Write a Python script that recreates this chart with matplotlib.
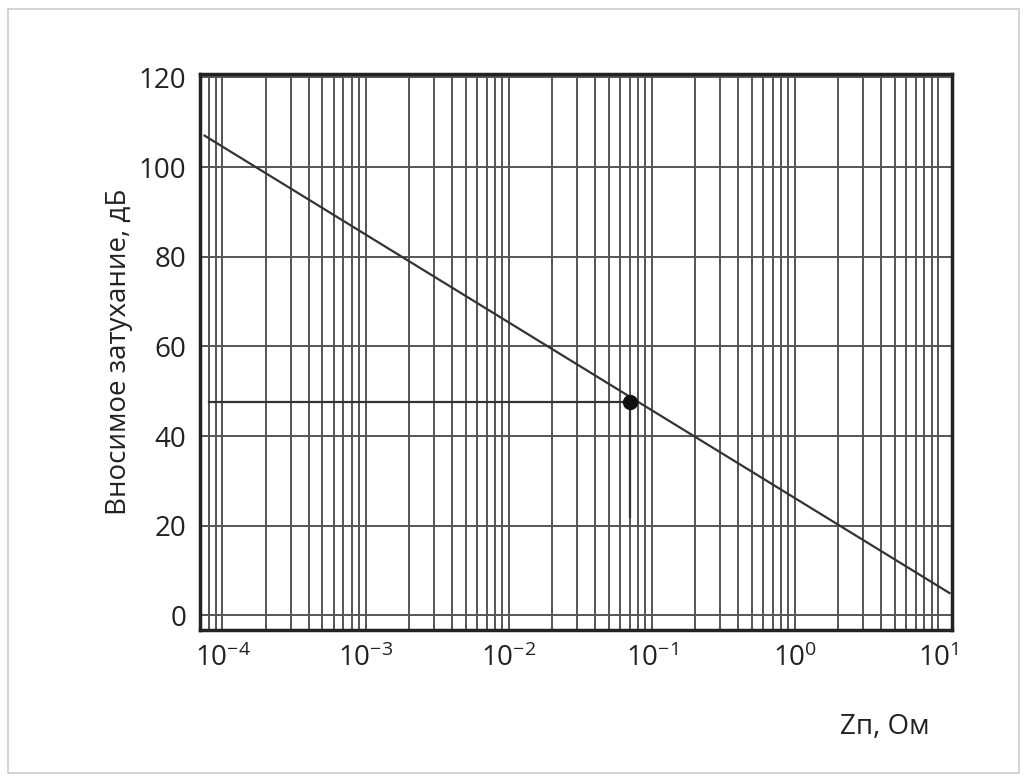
import matplotlib
matplotlib.use("Agg")
import matplotlib.pyplot as plt
from matplotlib.patches import Rectangle
import numpy as np

line_x = [7.5e-5, 12.0]
line_y = [107.0, 5.0]
pt_x, pt_y = 0.07, 47.5
hline_x0 = 8e-5
vline_y0 = 22.0
yticks = [0, 20, 40, 60, 80, 100, 120]

plt.rcParams['font.family'] = ['Open Sans', 'DejaVu Sans']
fig = plt.figure(figsize=(10.27, 7.81), dpi=100)
fig.patches.append(Rectangle((0.008, 0.01), 0.984, 0.978, transform=fig.transFigure,
                             fill=False, edgecolor='#cccccc', lw=1.2))
ax = fig.add_axes([0.195, 0.193, 0.732, 0.712])
ax.set_xscale('log')
ax.set_xlim(7e-5, 12.5)
ax.set_ylim(-3.3, 120.7)
ax.grid(True, which='both', axis='x', color='#555555', lw=1.4)
ax.grid(True, which='major', axis='y', color='#555555', lw=1.4)
ax.set_yticks(yticks)
ax.plot(line_x, line_y, color='#333333', lw=1.6)
ax.plot([hline_x0, pt_x], [pt_y, pt_y], color='#333333', lw=1.6)
ax.plot([pt_x, pt_x], [vline_y0, pt_y], color='#333333', lw=1.6)
ax.plot([pt_x], [pt_y], 'o', color='#111111', ms=10)
for s in ax.spines.values():
    s.set_linewidth(2.5)
    s.set_color('#222222')
ax.tick_params(which='both', length=0, labelsize=20, colors='#222222', pad=10)
ax.set_ylabel('Вносимое затухание, дБ', fontsize=20, color='#222222')
fig.text(0.905, 0.06, 'Zп, Ом', fontsize=20, ha='right', color='#222222')
fig.savefig('out.png', dpi=100)
